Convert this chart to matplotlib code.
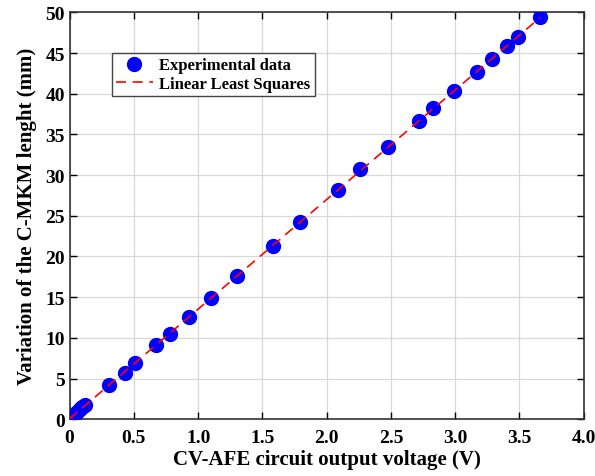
import matplotlib
matplotlib.use('Agg')
import matplotlib.pyplot as plt
import numpy as np

plt.rcParams['font.family'] = 'Liberation Serif'
plt.rcParams['font.weight'] = 'bold'

volts = [0.0, 0.02, 0.04, 0.06, 0.08, 0.10, 0.12, 0.31, 0.43, 0.51, 0.67, 0.78,
         0.93, 1.10, 1.30, 1.58, 1.79, 2.09, 2.26, 2.48, 2.72, 2.83, 2.99,
         3.17, 3.29, 3.40, 3.49, 3.66]
length = [0.0, 0.3, 0.6, 0.9, 1.2, 1.5, 1.8, 4.2, 5.7, 6.9, 9.1, 10.5,
          12.6, 14.9, 17.6, 21.3, 24.2, 28.2, 30.7, 33.5, 36.6, 38.2, 40.3,
          42.7, 44.3, 45.9, 47.0, 49.4]
xticks = [0, 0.5, 1.0, 1.5, 2.0, 2.5, 3.0, 3.5, 4.0]
xlabels = ['0', '0.5', '1.0', '1.5', '2.0', '2.5', '3.0', '3.5', '4.0']
yticks = [0, 5, 10, 15, 20, 25, 30, 35, 40, 45, 50]

x = np.array(volts)
y = np.array(length)
p = np.polyfit(x, y, 1)
xf = np.array([0, x.max()])

fig = plt.figure(figsize=(5.95, 4.77), dpi=100)
ax = fig.add_axes([0.117, 0.119, 0.864, 0.853])
ax.plot(x, y, 'o', color='blue', markersize=10, label='Experimental data', zorder=3)
ax.plot(xf, np.polyval(p, xf), '--', color='red', lw=1.2, dashes=(6, 4),
        label='Linear Least Squares', zorder=4)

ax.set_xlim(0, 4)
ax.set_ylim(0, 50)
ax.set_xticks(xticks)
ax.set_xticklabels(xlabels)
ax.set_yticks(yticks)
ax.tick_params(direction='in', top=True, right=True, labelsize=14, width=1, length=5)
ax.tick_params(axis='x', pad=7)
ax.grid(True, color='#d8d8d8', lw=0.9)
for s in ax.spines.values():
    s.set_linewidth(1.2)
    s.set_color('#333333')

ax.set_xlabel('CV-AFE circuit output voltage (V)', fontsize=15, fontweight='bold', labelpad=2)
ax.set_ylabel('Variation of the C-MKM lenght (mm)', fontsize=15, fontweight='bold', labelpad=6)

leg = ax.legend(loc='upper left', bbox_to_anchor=(0.066, 0.92), fontsize=12,
                fancybox=False, edgecolor='#444444', framealpha=1,
                borderpad=0.25, handlelength=2.2, labelspacing=0.15,
                handletextpad=0.4)
leg.get_frame().set_linewidth(1.0)

fig.savefig('out.png', dpi=100)
